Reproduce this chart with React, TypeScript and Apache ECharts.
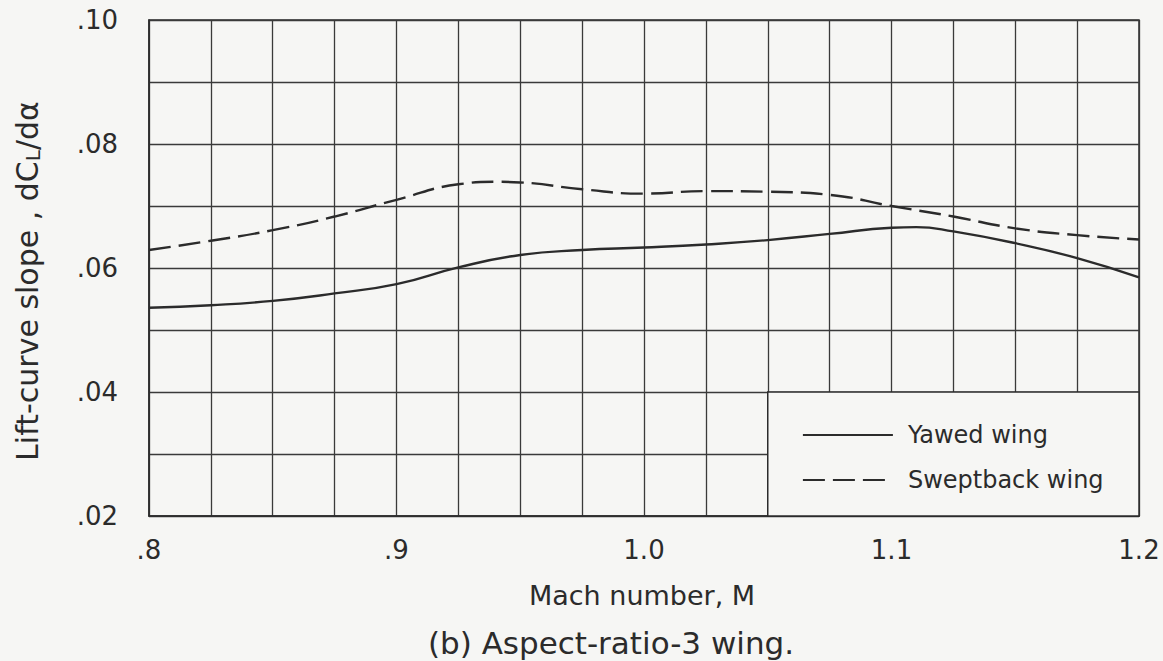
import React, { useEffect, useRef } from "react";
import * as echarts from "echarts";

const machNumbers = [0.8, 0.825, 0.85, 0.875, 0.9, 0.925, 0.95, 0.975, 1.0, 1.025, 1.05, 1.075, 1.1, 1.11, 1.125, 1.15, 1.175, 1.2];
const yawedWing = [0.0536, 0.054, 0.0547, 0.0559, 0.0574, 0.0601, 0.0621, 0.0629, 0.0633, 0.0638, 0.0645, 0.0655, 0.0665, 0.0666, 0.0659, 0.064, 0.0616, 0.0585];
const sweptMach = [0.8, 0.825, 0.85, 0.875, 0.9, 0.925, 0.94, 0.95, 0.975, 1.0, 1.025, 1.05, 1.075, 1.1, 1.125, 1.15, 1.175, 1.2];
const sweptbackWing = [0.0629, 0.0644, 0.0661, 0.0683, 0.071, 0.0735, 0.0739, 0.0738, 0.0727, 0.072, 0.0724, 0.0723, 0.0718, 0.07, 0.0683, 0.0664, 0.0653, 0.0646];

const xTickValues = [0.8, 0.9, 1.0, 1.1, 1.2];
const xTickTexts = [".8", ".9", "1.0", "1.1", "1.2"];
const yTickValues = [0.02, 0.04, 0.06, 0.08, 0.1];
const yTickTexts = [".02", ".04", ".06", ".08", ".10"];

const legendBox = [[1.05, 0.02], [1.2, 0.04]];

const FONT = "DejaVu Sans";
const INK = "#2b2b2b";
const BG = "#f6f6f4";

function pick(values: number[], texts: string[], v: number): string {
  for (let i = 0; i < values.length; i++) {
    if (Math.abs(values[i] - v) < 1e-6) return texts[i];
  }
  return "";
}

export default function App() {
  const ref = useRef<HTMLDivElement>(null);
  useEffect(() => {
    if (!ref.current) return;
    const chart = echarts.init(ref.current, null, { renderer: "svg" });
    chart.setOption({
      animation: false,
      backgroundColor: BG,
      grid: {
        left: 149,
        top: 20,
        right: 24,
        bottom: 145,
        show: true,
        borderColor: INK,
        borderWidth: 1.5,
      },
      xAxis: {
        type: "value",
        min: 0.8,
        max: 1.2,
        interval: 0.025,
        name: "Mach number, M",
        nameLocation: "middle",
        nameGap: 66,
        nameTextStyle: { fontFamily: FONT, fontSize: 27, color: INK, padding: [0, 0, 0, -4] },
        axisLine: { show: true, lineStyle: { color: INK, width: 1.5 } },
        axisTick: { show: false },
        axisLabel: {
          margin: 21,
          fontFamily: FONT,
          fontSize: 26,
          color: INK,
          showMinLabel: true,
          showMaxLabel: true,
          formatter: (v: number) => pick(xTickValues, xTickTexts, v),
        },
        splitLine: { show: true, lineStyle: { color: "#3a3a3a", width: 1.3 } },
      },
      yAxis: {
        type: "value",
        min: 0.02,
        max: 0.1,
        interval: 0.01,
        name: "{n|Lift-curve slope , dC}{s|L}{n|/dα}",
        nameLocation: "middle",
        nameRotate: 90,
        nameGap: 106,
        nameTextStyle: {
          fontFamily: FONT,
          color: INK,
          padding: [0, 26, 0, 0],
          rich: {
            n: { fontFamily: FONT, fontSize: 30, color: INK },
            s: { fontFamily: FONT, fontSize: 20, color: INK, padding: [12, 0, 0, 0] },
          },
        },
        axisLine: { show: true, lineStyle: { color: INK, width: 1.5 } },
        axisTick: { show: false },
        axisLabel: {
          margin: 31,
          fontFamily: FONT,
          fontSize: 26,
          color: INK,
          formatter: (v: number) => pick(yTickValues, yTickTexts, v),
        },
        splitLine: { show: true, lineStyle: { color: "#3a3a3a", width: 1.3 } },
      },
      legend: {
        left: 797,
        top: 418,
        orient: "vertical",
        itemWidth: 90,
        itemHeight: 14,
        itemGap: 21,
        itemStyle: { opacity: 0 },
        lineStyle: { width: 1.8 },
        textStyle: { fontFamily: FONT, fontSize: 24, color: INK, padding: [0, 0, 0, 10] },
        data: ["Yawed wing", "Sweptback wing"],
      },
      graphic: [
        {
          type: "text",
          x: 611,
          y: 643,
          style: {
            text: "(b) Aspect-ratio-3 wing.",
            fontFamily: FONT,
            fontSize: 31,
            fill: INK,
            textAlign: "center",
            textVerticalAlign: "middle",
            align: "center",
            verticalAlign: "middle",
          },
        },
      ],
      series: [
        {
          name: "Yawed wing",
          type: "line",
          smooth: true,
          symbol: "none",
          data: machNumbers.map((m, i) => [m, yawedWing[i]]),
          lineStyle: { color: INK, width: 2.4, type: "solid" },
          itemStyle: { color: INK },
          markArea: {
            silent: true,
            itemStyle: { color: BG, borderColor: INK, borderWidth: 1.5 },
            data: [[{ coord: legendBox[0] }, { coord: legendBox[1] }]],
          },
        },
        {
          name: "Sweptback wing",
          type: "line",
          smooth: true,
          symbol: "none",
          data: sweptMach.map((m, i) => [m, sweptbackWing[i]]),
          lineStyle: { color: INK, width: 2.4, type: [22, 8] },
          itemStyle: { color: INK },
        },
      ],
    });
    return () => chart.dispose();
  }, []);
  return (
    <div
      ref={ref}
      style={{ position: "fixed", left: 0, top: 0, width: 1163, height: 661 }}
    />
  );
}
